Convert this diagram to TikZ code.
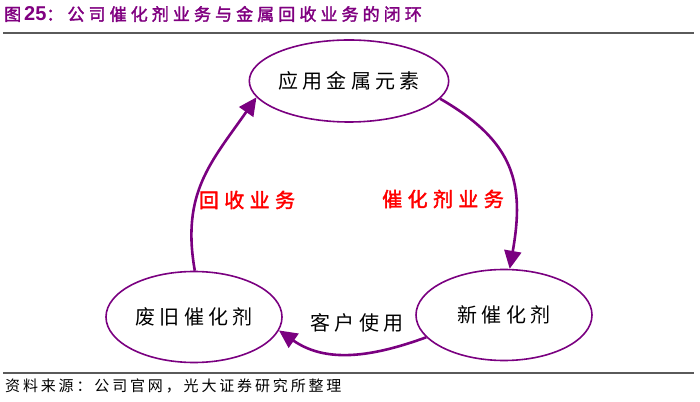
\documentclass[tikz,border=0pt]{standalone}
\usepackage{fontspec}
\setmainfont{Liberation Sans}
\newfontfamily\cjkbody[LetterSpace=21]{Noto Sans CJK SC}
\newfontfamily\cjkred[LetterSpace=27,FakeBold=2]{Noto Sans CJK SC}
\newfontfamily\cjktitle[LetterSpace=24,FakeBold=2]{Noto Sans CJK SC}
\newfontfamily\cjksrc[LetterSpace=19]{Noto Sans CJK SC}
\usepackage{tikz}
\usetikzlibrary{shapes,arrows.meta,positioning}
\definecolor{loopviolet}{RGB}{122,0,128}
\definecolor{titleviolet}{RGB}{128,0,128}
\definecolor{rulegray}{RGB}{90,90,90}
\tikzset{stage/.style={ellipse, draw=loopviolet, line width=1.6pt, minimum width=172pt, minimum height=82pt, inner sep=0pt, font=\cjkbody\fontsize{20}{20}\selectfont}}
\tikzset{line/.style={draw=loopviolet, line width=2.6pt, -{Triangle[length=18pt,width=17pt]}}}
\tikzset{biz/.style={text=red, font=\cjkred\fontsize{20}{20}\selectfont}}
\tikzset{rule/.style={draw=rulegray, line width=1.5pt}}

\begin{document}
\begin{tikzpicture}[x=1pt, y=1pt]
\useasboundingbox (0,0) rectangle (700,401);
% title and rules
\node[anchor=west, text=titleviolet, inner sep=0pt] (title) at (4,387)
  {{\cjktitle\fontsize{17}{17}\selectfont 图}\hspace{3pt}{\fontsize{20}{20}\selectfont\bfseries 25}{\cjktitle\fontsize{17}{17}\selectfont ：公司催化剂业务与金属回收业务的闭环}};
\draw[rule] (3,368) -- (694,368);
\draw[rule] (3,28) -- (694,28);
\node[anchor=west, inner sep=0pt, font=\cjksrc\fontsize{15}{15}\selectfont] (source) at (5,15) {资料来源：公司官网，光大证券研究所整理};
% the three stages
\node[stage]                                         (metal) at (349,320) {应用金属元素};
\node[stage, minimum width=176pt, minimum height=91pt] (waste) at (194,84)  {废旧催化剂};
\node[stage, minimum width=176pt, minimum height=91pt] (fresh) at (504,86)  {新催化剂};
% loop
\path[line] (metal.-11) to[out=-30, in=80, looseness=1.2]  (fresh.83);
\path[line] (fresh.196) to[out=200, in=-35]                (waste.-9);
\path[line] (waste.89)  to[out=100, in=-125, looseness=1.1] (metal.190);
\node[biz] (recycle) at (247,201) {回收业务};
\node[biz] (catal)   at (443,202) {催化剂业务};
\node[font=\cjkbody\fontsize{20}{20}\selectfont] (client) at (357,78) {客户使用};
\end{tikzpicture}
\end{document}
